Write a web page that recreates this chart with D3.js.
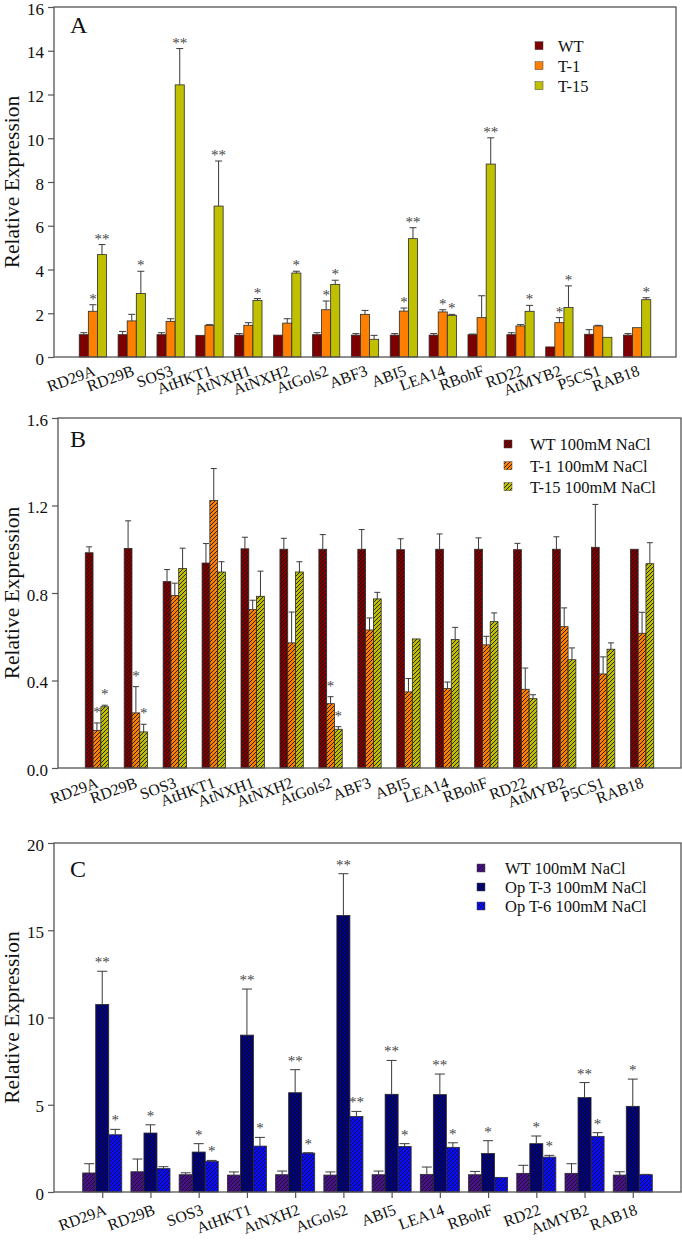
<!DOCTYPE html>
<html><head><meta charset="utf-8">
<script src="https://cdn.jsdelivr.net/npm/d3@7/dist/d3.min.js"></script>
<style>
body{margin:0;background:#fff}
svg{display:block}
svg text{font-family:"Liberation Serif","Times New Roman",Times,serif;fill:#111}
.star{opacity:0.99}
</style>
</head><body>
<svg id="chart" width="682" height="1240"></svg>
<script>
// ---------------- DATA ----------------
const genesAB = ["RD29A","RD29B","SOS3","AtHKT1","AtNXH1","AtNXH2","AtGols2","ABF3","ABI5","LEA14","RBohF","RD22","AtMYB2","P5CS1","RAB18"];
const genesC = ["RD29A","RD29B","SOS3","AtHKT1","AtNXH2","AtGols2","ABI5","LEA14","RBohF","RD22","AtMYB2","RAB18"];

// Panel A
const seriesA = ["WT","T-1","T-15"];
const wtA    = [1.02,1.02,1.02,0.99,1.0,1.0,1.02,1.0,1.0,1.0,1.02,1.02,0.46,1.04,1.0];
const wtAErr = [0.09,0.15,0.09,0.0,0.07,0.0,0.09,0.07,0.07,0.07,0.03,0.09,0.0,0.21,0.07];
const t1A    = [2.09,1.65,1.63,1.45,1.45,1.55,2.16,1.95,2.1,2.06,1.8,1.42,1.57,1.42,1.34];
const t1AErr = [0.3,0.3,0.12,0.03,0.12,0.2,0.4,0.18,0.14,0.1,1.0,0.06,0.23,0.03,0.0];
const t15A   = [4.68,2.9,12.44,6.9,2.59,3.84,3.32,0.81,5.41,1.9,8.82,2.09,2.26,0.9,2.62];
const t15AErr= [0.46,1.02,1.66,2.06,0.08,0.08,0.19,0.18,0.5,0.05,1.2,0.27,0.99,0.0,0.09];
const t1AStars  = ["*","","","","","","*","","*","*","","","*","",""];
const t15AStars = ["**","*","**","**","*","*","*","","**","*","**","*","*","","*"];

// Panel B
const seriesB = ["WT 100mM NaCl","T-1 100mM NaCl","T-15 100mM NaCl"];
const wtB    = [0.984,1.004,0.852,0.937,1.002,1.0,1.0,1.0,0.998,1.0,1.0,0.998,1.0,1.009,1.0];
const wtBErr = [0.027,0.126,0.055,0.089,0.053,0.05,0.067,0.09,0.05,0.07,0.052,0.029,0.057,0.196,0.003];
const t1B    = [0.172,0.252,0.788,1.223,0.724,0.572,0.294,0.631,0.348,0.363,0.563,0.36,0.646,0.43,0.616];
const t1BErr = [0.034,0.12,0.057,0.146,0.043,0.141,0.032,0.055,0.061,0.03,0.039,0.097,0.086,0.078,0.096];
const t15B   = [0.28,0.165,0.912,0.896,0.785,0.896,0.177,0.773,0.59,0.587,0.669,0.317,0.495,0.543,0.934];
const t15BErr= [0.007,0.035,0.093,0.047,0.115,0.047,0.012,0.03,0.004,0.056,0.04,0.018,0.054,0.029,0.096];
const t1BStars  = ["*","*","","","","","*","","","","","","","",""];
const t15BStars = ["*","*","","","","","*","","","","","","","",""];

// Panel C
const seriesC = ["WT 100mM NaCl","Op T-3 100mM NaCl","Op T-6 100mM NaCl"];
const wtC    = [1.09,1.16,0.99,0.97,0.99,0.97,0.99,1.01,0.99,1.07,1.07,0.97];
const wtCErr = [0.53,0.73,0.11,0.18,0.21,0.18,0.21,0.42,0.19,0.46,0.55,0.19];
const t3C    = [10.75,3.38,2.29,8.99,5.69,15.85,5.6,5.58,2.21,2.77,5.41,4.91];
const t3CErr = [1.9,0.47,0.48,2.64,1.32,2.39,1.94,1.18,0.73,0.44,0.86,1.56];
const t6C    = [3.28,1.34,1.76,2.63,2.23,4.33,2.61,2.56,0.84,2.0,3.19,0.99];
const t6CErr = [0.31,0.11,0.05,0.5,0.02,0.29,0.16,0.26,0.0,0.1,0.21,0.02];
const t3CStars = ["**","*","*","**","**","**","**","**","*","*","**","*"];
const t6CStars = ["*","","*","*","*","**","*","*","","*","*",""];

const ticksA = [0,2,4,6,8,10,12,14,16];
const ticksB = [0.0,0.4,0.8,1.2,1.6];
const ticksC = [0,5,10,15,20];

// ---------------- DRAWING ----------------
const svg = d3.select("#chart");
const defs = svg.append("defs");
function hatch(id, color){
  const p = defs.append("pattern").attr("id",id).attr("patternUnits","userSpaceOnUse")
    .attr("width",4).attr("height",4);
  p.append("rect").attr("width",4).attr("height",4).attr("fill",color);
  p.append("path").attr("d","M-1,1 l2,-2 M0,4 l4,-4 M3,5 l2,-2")
    .attr("stroke","#141414").attr("stroke-width",0.9);
}
const colA = ["#7d0000","#ff8000","#c0c000"];
const colC = ["#48108a","#00007e","#0a0aff"];
hatch("hB0",colA[0]); hatch("hB1",colA[1]); hatch("hB2",colA[2]);
hatch("hC0",colC[0]); hatch("hC1",colC[1]); hatch("hC2",colC[2]);

function panel(c){
  const n = c.genes.length;
  const x = d3.scaleLinear().domain([0,n+1]).range([c.left,c.right]);
  const y = d3.scaleLinear().domain([0,c.yMax]).range([c.bottom,c.top]);
  const g = svg.append("g");
  const bw = (x(1)-x(0))*c.barFrac;

  c.series.forEach((s,si)=>{
    const off = (si-1)*bw;
    const cx = i => x(i+1)+off;
    g.append("g").selectAll("rect").data(s.values).enter().append("rect")
      .attr("x",(d,i)=>cx(i)-bw/2).attr("y",d=>y(d))
      .attr("width",bw).attr("height",d=>y(0)-y(d))
      .attr("fill",s.fill).attr("stroke","#2a2a2a").attr("stroke-width",0.8);
    const eg = g.append("g").attr("stroke","#3a3a3a").attr("stroke-width",1);
    s.values.forEach((v,i)=>{
      const e = s.err[i];
      if(e>0.004){
        eg.append("line").attr("x1",cx(i)).attr("x2",cx(i)).attr("y1",y(v)).attr("y2",y(v+e));
        eg.append("line").attr("x1",cx(i)-c.capW/2).attr("x2",cx(i)+c.capW/2).attr("y1",y(v+e)).attr("y2",y(v+e));
      }
      if(s.stars && s.stars[i]){
        g.append("text").attr("class","star").attr("x",cx(i)).attr("y",y(v+e)-c.starOff+7)
          .attr("text-anchor","middle").attr("font-size",15).style("fill","#444")
          .text(s.stars[i]);
      }
    });
  });

  // box
  g.append("rect").attr("x",c.left).attr("y",c.top).attr("width",c.right-c.left).attr("height",c.bottom-c.top)
    .attr("fill","none").attr("stroke","#555").attr("stroke-width",1.3);

  // y axis
  const ya = d3.axisLeft(y).tickValues(c.yTicks).tickSize(6).tickPadding(4).tickFormat(c.fmt);
  const yg = g.append("g").attr("transform",`translate(${c.left},0)`).call(ya);
  yg.select(".domain").remove();
  yg.selectAll(".tick line").attr("stroke","#555").attr("stroke-width",1.2);
  yg.selectAll(".tick text").attr("font-size",17).attr("dy","0.42em").style("fill","#111");

  // x axis labels
  const xa = d3.axisBottom(x).tickValues(d3.range(1,n+1)).tickSize(c.xTick).tickFormat(d=>c.genes[d-1]);
  const xg = g.append("g").attr("transform",`translate(0,${c.bottom})`).call(xa);
  xg.select(".domain").remove();
  xg.selectAll(".tick line").attr("stroke","#555").attr("stroke-width",1.2);
  xg.selectAll(".tick text").attr("font-size",16).style("fill","#111")
    .attr("text-anchor","end").attr("dy",null).attr("y",null)
    .attr("transform",`translate(${c.ldx},${c.ldy}) rotate(-20)`);

  // y title
  g.append("text").attr("transform",`translate(18.5,${(c.top+c.bottom)/2}) rotate(-90)`)
    .attr("text-anchor","middle").attr("font-size",21.5).text("Relative Expression");

  // panel letter
  g.append("text").attr("x",70).attr("y",c.top+c.letterDy).attr("font-size",24).text(c.letter);

  // legend
  c.series.forEach((s,si)=>{
    const by = c.legY[si];
    g.append("rect").attr("x",c.legX).attr("y",by-10).attr("width",8).attr("height",8)
      .attr("fill",s.fill).attr("stroke","#444").attr("stroke-width",0.5);
    g.append("text").attr("x",c.legTX).attr("y",by).attr("font-size",16.5).text(s.name);
  });
}

panel({
  genes:genesAB, left:54, right:676, top:7, bottom:357, yMax:16, yTicks:ticksA, fmt:d3.format("d"),
  barFrac:0.234, capW:7, starOff:8, xTick:0, ldx:3, ldy:18, letter:"A", letterDy:26,
  legX:535, legTX:558, legY:[51.7,71.7,91.7],
  series:[
    {name:seriesA[0],values:wtA,err:wtAErr,fill:colA[0]},
    {name:seriesA[1],values:t1A,err:t1AErr,fill:colA[1],stars:t1AStars},
    {name:seriesA[2],values:t15A,err:t15AErr,fill:colA[2],stars:t15AStars}
  ]
});
panel({
  genes:genesAB, left:58, right:681, top:418, bottom:768, yMax:1.6, yTicks:ticksB, fmt:d3.format(".1f"),
  barFrac:0.2, capW:6, starOff:13, xTick:0, ldx:2, ldy:19, letter:"B", letterDy:29,
  legX:504, legTX:530, legY:[450,471.7,492.7],
  series:[
    {name:seriesB[0],values:wtB,err:wtBErr,fill:"url(#hB0)"},
    {name:seriesB[1],values:t1B,err:t1BErr,fill:"url(#hB1)",stars:t1BStars},
    {name:seriesB[2],values:t15B,err:t15BErr,fill:"url(#hB2)",stars:t15BStars}
  ]
});
panel({
  genes:genesC, left:54, right:681, top:843, bottom:1192, yMax:20, yTicks:ticksC, fmt:d3.format("d"),
  barFrac:0.27, capW:10, starOff:11, xTick:6, ldx:5, ldy:22, letter:"C", letterDy:34,
  legX:477, legTX:505, legY:[874,893,912],
  series:[
    {name:seriesC[0],values:wtC,err:wtCErr,fill:"url(#hC0)"},
    {name:seriesC[1],values:t3C,err:t3CErr,fill:"url(#hC1)",stars:t3CStars},
    {name:seriesC[2],values:t6C,err:t6CErr,fill:"url(#hC2)",stars:t6CStars}
  ]
});
</script>
</body></html>
